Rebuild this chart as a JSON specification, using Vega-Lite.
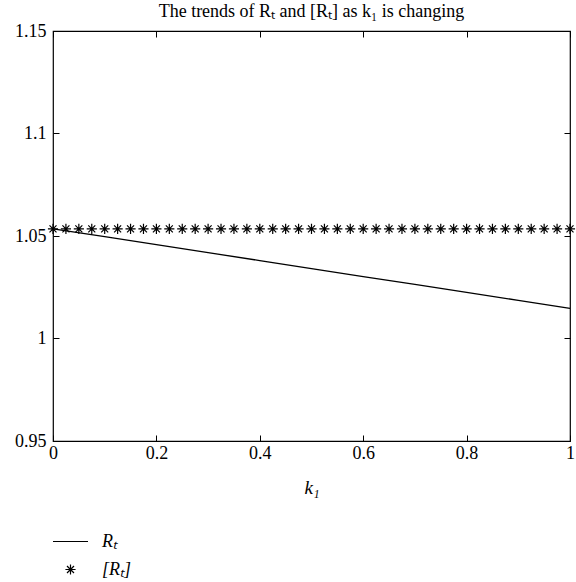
{
  "$schema": "https://vega.github.io/schema/vega-lite/v6.json",
  "width": 517,
  "height": 410,
  "autosize": "none",
  "padding": {"left": 53, "top": 31, "right": 6, "bottom": 141},
  "background": "white",
  "config": {
    "font": "Liberation Serif",
    "view": {"stroke": "black", "strokeWidth": 1.2},
    "axis": {"grid": false, "domain": false, "labelColor": "black", "labelFontSize": 18, "tickColor": "black", "tickSize": -6, "tickWidth": 1, "labelFlush": false, "titleColor": "black", "titleFontWeight": "normal"}
  },
  "title": {"text": "The trends of Rₜ and [Rₜ] as k₁ is changing", "font": "Liberation Serif", "fontSize": 18, "fontWeight": "normal", "color": "black", "offset": 1, "anchor": "middle"},
  "datasets": {
    "rt": [
      {"k1": 0.0, "value": 1.0535},
      {"k1": 0.1, "value": 1.0497},
      {"k1": 0.2, "value": 1.0458},
      {"k1": 0.3, "value": 1.0419},
      {"k1": 0.4, "value": 1.0380},
      {"k1": 0.5, "value": 1.0341},
      {"k1": 0.6, "value": 1.0302},
      {"k1": 0.7, "value": 1.0264},
      {"k1": 0.8, "value": 1.0225},
      {"k1": 0.9, "value": 1.0186},
      {"k1": 1.0, "value": 1.0147}
    ],
    "stars": [
      {"k1": 0.000, "value": 1.0535, "series": "[Rₜ]"},
      {"k1": 0.025, "value": 1.0535, "series": "[Rₜ]"},
      {"k1": 0.050, "value": 1.0535, "series": "[Rₜ]"},
      {"k1": 0.075, "value": 1.0535, "series": "[Rₜ]"},
      {"k1": 0.100, "value": 1.0535, "series": "[Rₜ]"},
      {"k1": 0.125, "value": 1.0535, "series": "[Rₜ]"},
      {"k1": 0.150, "value": 1.0535, "series": "[Rₜ]"},
      {"k1": 0.175, "value": 1.0535, "series": "[Rₜ]"},
      {"k1": 0.200, "value": 1.0535, "series": "[Rₜ]"},
      {"k1": 0.225, "value": 1.0535, "series": "[Rₜ]"},
      {"k1": 0.250, "value": 1.0535, "series": "[Rₜ]"},
      {"k1": 0.275, "value": 1.0535, "series": "[Rₜ]"},
      {"k1": 0.300, "value": 1.0535, "series": "[Rₜ]"},
      {"k1": 0.325, "value": 1.0535, "series": "[Rₜ]"},
      {"k1": 0.350, "value": 1.0535, "series": "[Rₜ]"},
      {"k1": 0.375, "value": 1.0535, "series": "[Rₜ]"},
      {"k1": 0.400, "value": 1.0535, "series": "[Rₜ]"},
      {"k1": 0.425, "value": 1.0535, "series": "[Rₜ]"},
      {"k1": 0.450, "value": 1.0535, "series": "[Rₜ]"},
      {"k1": 0.475, "value": 1.0535, "series": "[Rₜ]"},
      {"k1": 0.500, "value": 1.0535, "series": "[Rₜ]"},
      {"k1": 0.525, "value": 1.0535, "series": "[Rₜ]"},
      {"k1": 0.550, "value": 1.0535, "series": "[Rₜ]"},
      {"k1": 0.575, "value": 1.0535, "series": "[Rₜ]"},
      {"k1": 0.600, "value": 1.0535, "series": "[Rₜ]"},
      {"k1": 0.625, "value": 1.0535, "series": "[Rₜ]"},
      {"k1": 0.650, "value": 1.0535, "series": "[Rₜ]"},
      {"k1": 0.675, "value": 1.0535, "series": "[Rₜ]"},
      {"k1": 0.700, "value": 1.0535, "series": "[Rₜ]"},
      {"k1": 0.725, "value": 1.0535, "series": "[Rₜ]"},
      {"k1": 0.750, "value": 1.0535, "series": "[Rₜ]"},
      {"k1": 0.775, "value": 1.0535, "series": "[Rₜ]"},
      {"k1": 0.800, "value": 1.0535, "series": "[Rₜ]"},
      {"k1": 0.825, "value": 1.0535, "series": "[Rₜ]"},
      {"k1": 0.850, "value": 1.0535, "series": "[Rₜ]"},
      {"k1": 0.875, "value": 1.0535, "series": "[Rₜ]"},
      {"k1": 0.900, "value": 1.0535, "series": "[Rₜ]"},
      {"k1": 0.925, "value": 1.0535, "series": "[Rₜ]"},
      {"k1": 0.950, "value": 1.0535, "series": "[Rₜ]"},
      {"k1": 0.975, "value": 1.0535, "series": "[Rₜ]"},
      {"k1": 1.000, "value": 1.0535, "series": "[Rₜ]"}
    ]
  },
  "layer": [
    {
      "data": {"name": "rt"},
      "mark": {"type": "line", "color": "black", "strokeWidth": 1.3},
      "encoding": {
        "x": {"field": "k1", "type": "quantitative", "scale": {"domain": [0, 1], "nice": false},
          "axis": {"orient": "bottom", "values": [0, 0.2, 0.4, 0.6, 0.8, 1], "format": "~g", "labelFont": "Liberation Serif", "labelFontSize": 18, "labelPadding": 9, "labelBaseline": "top", "title": "k₁", "titleFont": "Liberation Serif", "titleFontSize": 19, "titleFontStyle": "italic", "titlePadding": 16}},
        "y": {"field": "value", "type": "quantitative", "scale": {"domain": [0.95, 1.15], "nice": false, "zero": false},
          "axis": {"orient": "left", "values": [0.95, 1, 1.05, 1.1, 1.15], "format": "~g", "labelFont": "Liberation Serif", "labelFontSize": 18, "labelPadding": 13, "title": null}}
      }
    },
    {
      "data": {"name": "stars"},
      "mark": {"type": "point", "filled": false, "color": "black", "strokeWidth": 1.2, "opacity": 1, "size": 1225},
      "encoding": {
        "x": {"field": "k1", "type": "quantitative", "scale": {"domain": [0, 1], "nice": false},
          "axis": {"orient": "top", "values": [0, 0.2, 0.4, 0.6, 0.8, 1], "labels": false, "title": null}},
        "y": {"field": "value", "type": "quantitative", "scale": {"domain": [0.95, 1.15], "nice": false, "zero": false},
          "axis": {"orient": "right", "values": [0.95, 1, 1.05, 1.1, 1.15], "labels": false, "title": null}},
        "shape": {"field": "series", "type": "nominal",
          "scale": {"domain": ["Rₜ", "[Rₜ]"], "range": ["M-1,0L1,0", "M0,-0.29L0,0.29M-0.29,0L0.29,0M-0.2,-0.2L0.2,0.2M-0.2,0.2L0.2,-0.2"]},
          "legend": {"orient": "none", "legendX": -1, "legendY": 492, "title": null, "direction": "vertical", "symbolSize": 1225, "symbolStrokeColor": "black", "symbolFillColor": "transparent", "symbolStrokeWidth": 1.2, "labelFont": "Liberation Serif", "labelFontSize": 18, "labelFontStyle": "italic", "labelColor": "black", "labelOffset": 13, "rowPadding": -8, "padding": 0}}
      }
    }
  ],
  "resolve": {"axis": {"x": "independent", "y": "independent"}}
}
